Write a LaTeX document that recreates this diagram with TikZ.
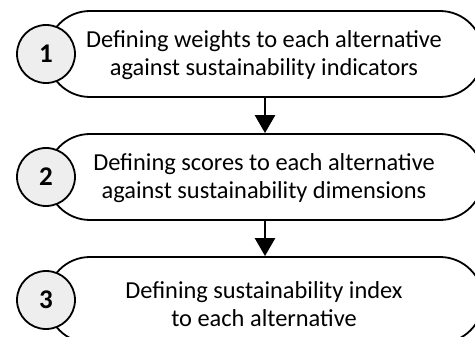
\documentclass[tikz,border=0pt]{standalone}
\usepackage{fontspec}
\setmainfont{Carlito}
\usetikzlibrary{arrows.meta}
\tikzset{
  stepbox/.style={draw=black, line width=1.8pt, rounded corners=43pt, minimum width=436pt, minimum height=86pt, inner sep=0pt, fill=white},
  steptext/.style={align=center, font=\fontsize{24.4}{28.5}\selectfont, inner sep=0pt},
  numcircle/.style={circle, draw=black, line width=1.8pt, fill=gray!13, minimum size=58pt, inner sep=0pt, font=\fontsize{27}{30}\selectfont\bfseries},
  flowarrow/.style={line width=2.6pt, -{Triangle[width=20pt,length=18pt]}}
}
\begin{document}
\begin{tikzpicture}[x=1pt, y=-1pt]
\useasboundingbox (0,0) rectangle (475,337);
\clip (0,0) rectangle (475,337);
\node[stepbox] (b1) at (265,54) {};
\node[stepbox] (b2) at (265,177) {};
\node[stepbox] (b3) at (265,300) {};
\node[steptext] (t1) at (264,55) {Defining weights to each alternative\\against sustainability indicators};
\node[steptext] (t2) at (264,178) {Defining scores to each alternative\\against sustainability dimensions};
\node[steptext] (t3) at (264,304) {Defining sustainability index\\to each alternative};
\node[numcircle] (c1) at (46,54) {1};
\node[numcircle] (c2) at (46,177) {2};
\node[numcircle] (c3) at (46,300) {3};
\draw[flowarrow] (b1.south) -- (b2.north);
\draw[flowarrow] (b2.south) -- (b3.north);
\end{tikzpicture}
\end{document}
